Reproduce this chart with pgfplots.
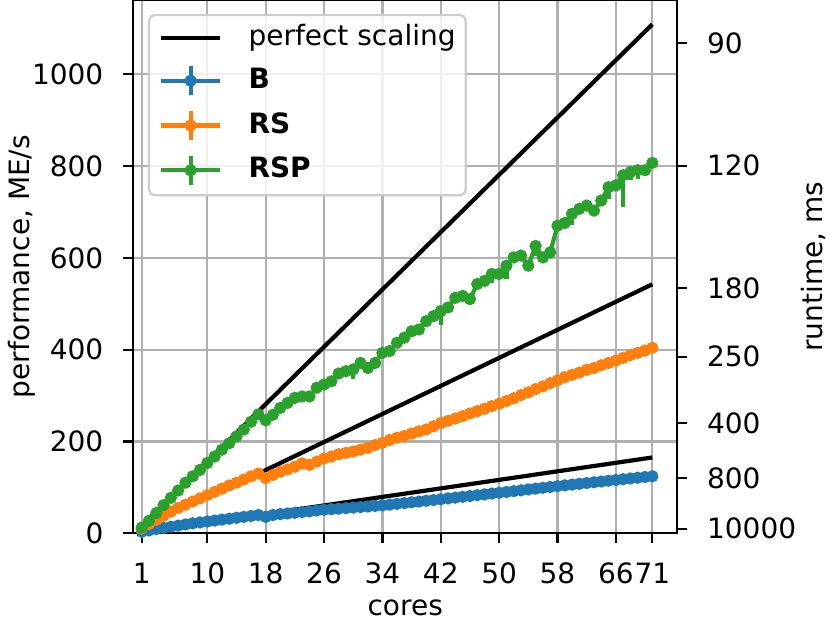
\documentclass[border=0pt]{standalone}
\usepackage{fontspec}
\setmainfont{DejaVu Sans}
\usepackage{pgfplots}
\usepackage{pgfplotstable}
\pgfplotsset{compat=1.18}
\definecolor{tabblue}{HTML}{1F77B4}
\definecolor{taborange}{HTML}{FF7F0E}
\definecolor{tabgreen}{HTML}{2CA02C}
\definecolor{gridgray}{HTML}{B0B0B0}
\definecolor{legendgray}{HTML}{CCCCCC}
\newcommand{\mplfont}{\fontsize{10}{12}\selectfont}

% cores, B, RS, RSP (ME/s), RSP error up/down
\pgfplotstableread{
x   B     RS   RSP  ep em
1   3.0   10   12   1  1
2   6.0   20   27   1  1
3   9.0   29   44   1  1
4   11.5  38   61   1  1
5   14.0  47   77   1  1
6   16.5  55   93   1  1
7   19.0  62   110  1  1
8   21.5  69   124  1  1
9   23.5  76   138  1  1
10  25.5  83   153  1  1
11  27.5  90   167  1  1
12  29.5  97   182  1  1
13  31.5  104  196  1  1
14  33.5  110  211  1  1
15  35.5  117  226  1  1
16  37.5  124  243  1  1
17  39.5  130  259  1  1
18  35.5  120  246  2  2
19  39.5  127  258  2  2
20  41.5  134  273  2  2
21  43.0  139  284  2  2
22  44.5  145  295  2  2
23  46.0  152  298  2  2
24  47.5  149  298  2  4
25  49.5  156  317  2  2
26  51.0  163  324  2  2
27  52.2  167  331  2  2
28  53.4  172  348  2  2
29  54.6  175  353  2  4
30  55.8  178  357  2  22
31  56.9  182  371  2  2
32  58.1  186  360  2  4
33  59.3  192  371  2  2
34  60.5  197  393  2  2
35  62.2  203  397  2  2
36  63.9  208  415  2  2
37  65.6  212  426  2  2
38  67.3  217  440  2  3
39  68.9  222  444  2  2
40  70.6  226  462  2  3
41  72.3  233  473  2  8
42  74.0  240  484  2  30
43  75.8  245  492  2  3
44  77.5  250  513  2  8
45  79.3  255  517  2  3
46  81.0  261  510  2  6
47  82.8  266  543  2  8
48  84.5  271  550  2  3
49  86.3  277  565  2  20
50  88.0  282  565  2  4
51  89.8  288  583  2  28
52  91.6  294  601  2  4
53  93.4  301  605  2  8
54  95.3  307  583  2  4
55  97.1  314  626  2  22
56  98.9  320  601  2  4
57  100.7 327  612  2  10
58  102.5 333  670  2  6
59  104.2 340  676  2  4
60  105.9 345  696  2  24
61  107.6 350  707  2  8
62  109.3 356  714  2  8
63  110.9 360  703  2  6
64  112.6 366  725  2  12
65  114.3 371  754  2  25
66  116.0 376  758  2  6
67  117.6 382  780  2  70
68  119.2 388  787  2  18
69  120.8 393  791  2  20
70  122.4 398  791  2  4
71  124.0 404  807  2  4
}\datatable

\pgfplotsset{
  ebar/.style={legend image code/.code={
    \path[draw=none, fill=none] (0pt,-5.2pt) rectangle (21pt,5.2pt);
    \draw[#1, line width=1.5pt, draw opacity=1, sharp corners] (0pt,0pt) -- (21pt,0pt);
    \draw[#1, line width=1.5pt, draw opacity=1, sharp corners] (10.5pt,-5.2pt) -- (10.5pt,5.2pt);
    \fill[#1, fill opacity=1] (10.5pt,0pt) circle (1.4pt);}},
  lineleg/.style={legend image code/.code={
    \path[draw=none, fill=none] (0pt,-5.2pt) rectangle (21pt,5.2pt);
    \draw[#1, line width=1.5pt, draw opacity=1, sharp corners] (0pt,0pt) -- (21pt,0pt);}},
  common/.style={
    at={(0,0)}, anchor=south west,
    scale only axis, width=194.2pt, height=190.4pt,
    xmin=-0.15, xmax=74.4, ymin=0, ymax=1162,
    tick align=outside, major tick length=3.5pt,
    tick style={line width=0.8pt, black},
    axis line style={line width=0.8pt},
    tick label style={font=\mplfont},
    label style={font=\mplfont},
    /pgf/number format/assume math mode=true,
    /pgf/number format/set thousands separator={},
    scaled ticks=false,
  },
}

\begin{document}
\begin{tikzpicture}
\begin{axis}[
  common,
  xtick={1,10,18,26,34,42,50,58,66,71},
  ytick={0,200,400,600,800,1000},
  xtick pos=left, ytick pos=left,
  grid=major, grid style={gridgray, line width=0.8pt},
  xticklabel style={anchor=north, inner sep=0pt, yshift=-7pt},
  yticklabel style={anchor=east, inner sep=0pt, xshift=-7pt},
  xlabel={cores}, ylabel={performance, ME/s},
  every axis x label/.style={at={([yshift=-29.5pt]axis description cs:0.5,0)}, anchor=base},
  every axis y label/.style={at={([xshift=-39.8pt]axis description cs:0,0.5)}, rotate=90, anchor=center},
  legend cell align=left,
  legend style={at={(axis description cs:0.027,0.974)}, anchor=north west,
    draw=legendgray, line width=0.8pt, rounded corners=2pt,
    fill=white, fill opacity=0.8, draw opacity=1, text opacity=1,
    font=\mplfont, inner xsep=3.6pt, inner ysep=3pt,
    row sep=4.1pt, column sep=9.4pt,
    nodes={inner sep=0pt, text height=7.5pt, text depth=2pt}},
]
\addplot[black, line width=1.5pt, lineleg=black] coordinates {(1,15.62) (71,1109)};
\addlegendentry{perfect scaling}
\addplot[black, line width=1.5pt, forget plot] coordinates {(17,129.9) (71,542.5)};
\addplot[black, line width=1.5pt, forget plot] coordinates {(17,39.5) (71,165)};

\addplot[tabblue, line width=1.5pt, mark=*, mark size=1.4pt,
  mark options={draw=none, fill=tabblue}, ebar=tabblue]
  table[x=x, y=B] {\datatable};
\addlegendentry{\textbf{B}}
\addplot[taborange, line width=1.5pt, mark=*, mark size=1.4pt,
  mark options={draw=none, fill=taborange}, ebar=taborange]
  table[x=x, y=RS] {\datatable};
\addlegendentry{\textbf{RS}}
\addplot[tabgreen, line width=1.5pt, mark=*, mark size=1.4pt,
  mark options={draw=none, fill=tabgreen}, ebar=tabgreen,
  error bars/.cd, y dir=both, y explicit, error mark=none,
  error bar style={line width=1.5pt, tabgreen}]
  table[x=x, y=RSP, y error plus=ep, y error minus=em] {\datatable};
\addlegendentry{\textbf{RSP}}
\end{axis}

\begin{axis}[
  common,
  axis x line=none, axis y line*=right,
  ytick={1067.8,800.8,533.9,384.4,240.25,120.1,9.61},
  yticklabels={90,120,180,250,400,800,10000},
  yticklabel style={anchor=west, inner sep=0pt, xshift=7pt},
  ylabel={runtime, ms},
  every axis y label/.style={at={([xshift=48.6pt]axis description cs:1,0.5)}, rotate=90, anchor=center},
]
\end{axis}
\pgfresetboundingbox
\path[use as bounding box] (-47.6pt,-32.1pt) rectangle (248.8pt,190.4pt);
\end{tikzpicture}
\end{document}
